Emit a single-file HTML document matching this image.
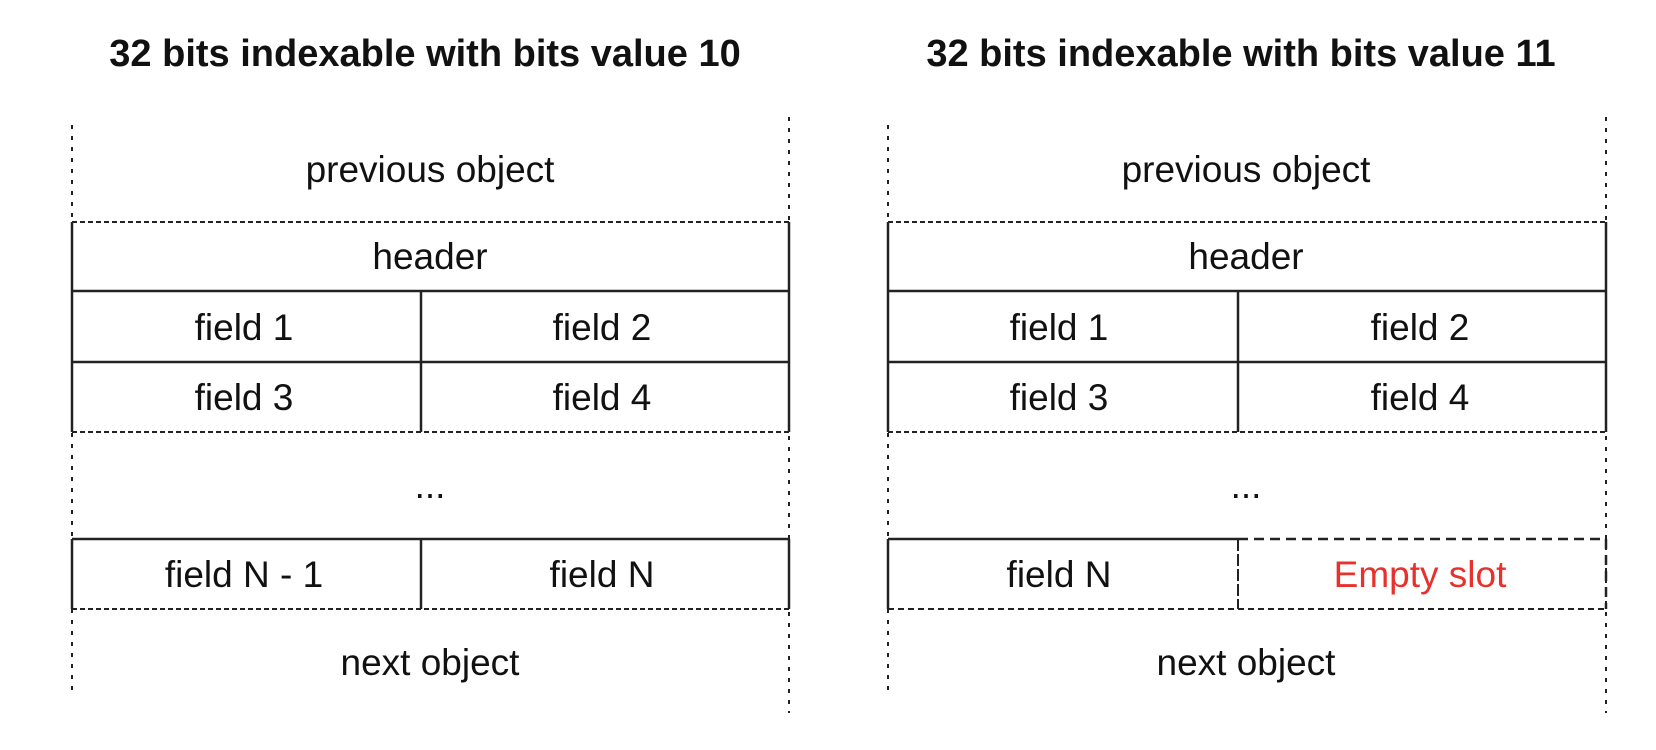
<!DOCTYPE html>
<html><head><meta charset="utf-8"><style>
html,body{margin:0;padding:0;background:#fff;width:1656px;height:750px;overflow:hidden}
svg text{font-family:"Liberation Sans",sans-serif;font-size:37px;fill:#111;text-anchor:middle}
</style></head><body>
<svg width="1656" height="750" xmlns="http://www.w3.org/2000/svg">
<g stroke="#222" fill="none">
<line x1="72" y1="125" x2="72" y2="692" stroke-width="2" stroke-dasharray="4,7"/>
<line x1="789" y1="117" x2="789" y2="713" stroke-width="2" stroke-dasharray="4,7"/>
<line x1="72" y1="222" x2="789" y2="222" stroke-width="2" stroke-dasharray="5,3"/>
<line x1="72" y1="432" x2="789" y2="432" stroke-width="2" stroke-dasharray="5,3"/>
<line x1="72" y1="539" x2="789" y2="539" stroke-width="2.5"/>
<line x1="72" y1="609" x2="789" y2="609" stroke-width="2" stroke-dasharray="5,3"/>
<line x1="72" y1="222" x2="72" y2="432" stroke-width="2.5"/>
<line x1="789" y1="222" x2="789" y2="432" stroke-width="2.5"/>
<line x1="72" y1="539" x2="72" y2="609" stroke-width="2.5"/>
<line x1="789" y1="539" x2="789" y2="609" stroke-width="2.5"/>
<line x1="72" y1="291" x2="789" y2="291" stroke-width="2.5"/>
<line x1="72" y1="362" x2="789" y2="362" stroke-width="2.5"/>
<line x1="421" y1="291" x2="421" y2="432" stroke-width="2.5"/>
<line x1="421" y1="539" x2="421" y2="609" stroke-width="2.5"/>
<line x1="888" y1="125" x2="888" y2="692" stroke-width="2" stroke-dasharray="4,7"/>
<line x1="1606" y1="117" x2="1606" y2="713" stroke-width="2" stroke-dasharray="4,7"/>
<line x1="888" y1="222" x2="1606" y2="222" stroke-width="2" stroke-dasharray="5,3"/>
<line x1="888" y1="432" x2="1606" y2="432" stroke-width="2" stroke-dasharray="5,3"/>
<line x1="888" y1="539" x2="1238" y2="539" stroke-width="2.5"/>
<line x1="1238" y1="539" x2="1606" y2="539" stroke-width="2.5" stroke-dasharray="10,6"/>
<line x1="888" y1="609" x2="1606" y2="609" stroke-width="2" stroke-dasharray="6,4"/>
<line x1="888" y1="222" x2="888" y2="432" stroke-width="2.5"/>
<line x1="1606" y1="222" x2="1606" y2="432" stroke-width="2.5"/>
<line x1="888" y1="539" x2="888" y2="609" stroke-width="2.5"/>
<line x1="1606" y1="539" x2="1606" y2="609" stroke-width="2.5" stroke-dasharray="10,6"/>
<line x1="888" y1="291" x2="1606" y2="291" stroke-width="2.5"/>
<line x1="888" y1="362" x2="1606" y2="362" stroke-width="2.5"/>
<line x1="1238" y1="291" x2="1238" y2="432" stroke-width="2.5"/>
<line x1="1238" y1="539" x2="1238" y2="609" stroke-width="2" stroke-dasharray="12,3"/>
</g>
<text x="425" y="66" style="font-weight:bold;font-size:38px">32 bits indexable with bits value 10</text>
<text x="1241" y="66" style="font-weight:bold;font-size:38px">32 bits indexable with bits value 11</text>
<text x="430" y="182">previous object</text>
<text x="430" y="269">header</text>
<text x="244" y="340">field 1</text>
<text x="602" y="340">field 2</text>
<text x="244" y="410">field 3</text>
<text x="602" y="410">field 4</text>
<text x="430" y="498">...</text>
<text x="244" y="587">field N - 1</text>
<text x="602" y="587">field N</text>
<text x="430" y="675">next object</text>
<text x="1246" y="182">previous object</text>
<text x="1246" y="269">header</text>
<text x="1059" y="340">field 1</text>
<text x="1420" y="340">field 2</text>
<text x="1059" y="410">field 3</text>
<text x="1420" y="410">field 4</text>
<text x="1246" y="498">...</text>
<text x="1059" y="587">field N</text>
<text x="1420" y="587" style="fill:#e8312d">Empty slot</text>
<text x="1246" y="675">next object</text>
</svg>
</body></html>
